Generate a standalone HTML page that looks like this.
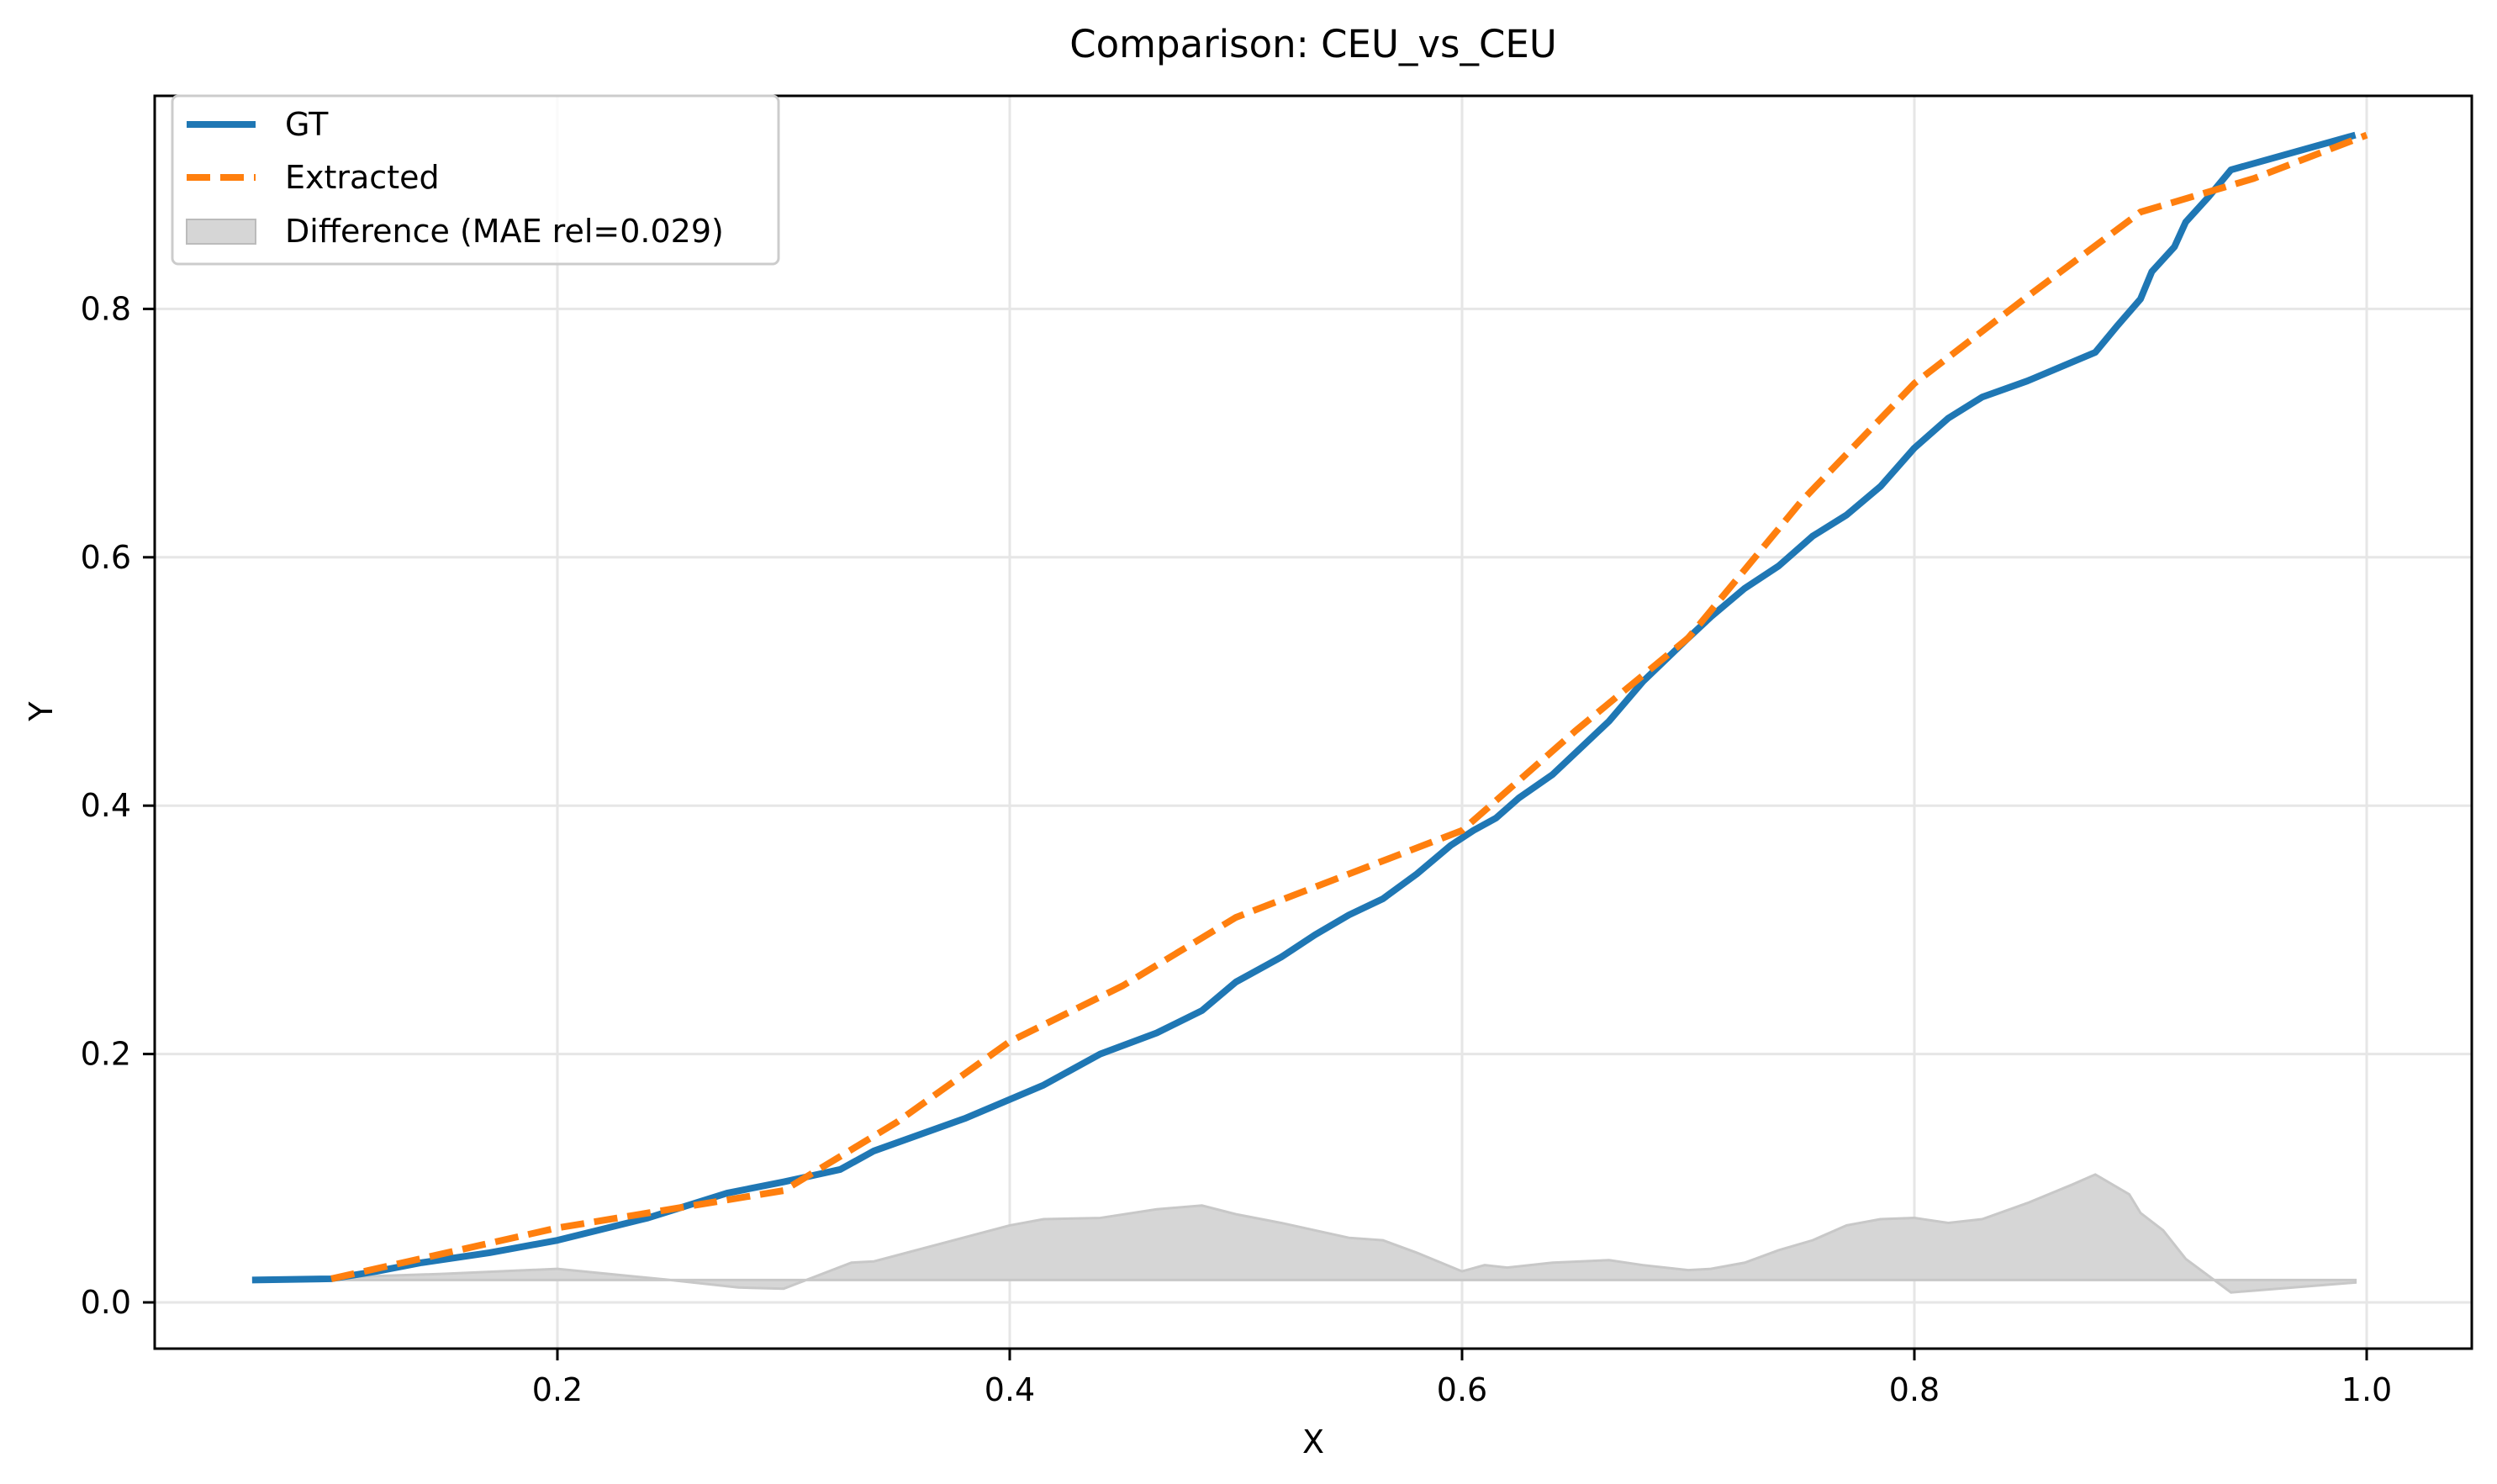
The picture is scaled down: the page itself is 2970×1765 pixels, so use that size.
<!DOCTYPE html>
<html><head><meta charset="utf-8"><style>
html,body{margin:0;padding:0;background:#fff}
svg{display:block;font-family:"DejaVu Sans","Liberation Sans",sans-serif}
</style></head><body>
<svg id="chart" width="2970" height="1765" viewBox="0 0 2970 1765" xmlns="http://www.w3.org/2000/svg">
<rect width="2970" height="1765" fill="#fff"/>
<g id="grid"></g>
<g id="fill"></g>
<g id="lines"></g>
<g id="axes"></g>
<text x="1562" y="68" font-size="45" text-anchor="middle">Comparison: CEU_vs_CEU</text>
<text x="1562" y="1728" font-size="38" text-anchor="middle">X</text>
<text x="62" y="846" font-size="38" text-anchor="middle" transform="rotate(-90 62 846)">Y</text>
<g>
<rect x="205" y="114" width="721" height="200" rx="7" fill="#fff" fill-opacity="0.8" stroke="#ccc" stroke-width="3"/>
<line x1="222" y1="148" x2="304" y2="148" stroke="#1f77b4" stroke-width="8"/>
<text x="339" y="161" font-size="38">GT</text>
<line x1="222" y1="211" x2="304" y2="211" stroke="#ff7f0e" stroke-width="8" stroke-dasharray="28,12"/>
<text x="339" y="224" font-size="38">Extracted</text>
<rect x="222" y="261" width="82" height="29" fill="#d6d6d6" stroke="#bbb" stroke-width="2"/>
<text x="339" y="288" font-size="38">Difference (MAE rel=0.029)</text>
</g>
</svg>
<script>
const gtX=[0.065,0.1,0.12,0.14,0.17,0.2,0.24,0.275,0.3,0.325,0.34,0.38,0.415,0.44,0.465,0.485,0.5,0.52,0.535,0.55,0.565,0.58,0.595,0.605,0.615,0.625,0.64,0.665,0.68,0.7,0.71,0.725,0.74,0.755,0.77,0.785,0.8,0.815,0.83,0.85,0.88,0.89,0.9,0.905,0.915,0.92,0.93,0.94,0.995];
const gtY=[0.018,0.019,0.025,0.032,0.04,0.05,0.068,0.088,0.097,0.107,0.122,0.148,0.175,0.2,0.217,0.235,0.258,0.278,0.296,0.312,0.325,0.345,0.368,0.38,0.39,0.406,0.425,0.468,0.5,0.535,0.552,0.575,0.593,0.617,0.634,0.657,0.688,0.712,0.729,0.742,0.765,0.787,0.808,0.83,0.85,0.87,0.89,0.912,0.94];
const exX=[0.1,0.2,0.25,0.3,0.35,0.4,0.45,0.5,0.55,0.6,0.65,0.7,0.75,0.8,0.85,0.9,0.95,1.0];
const exY=[0.019,0.06,0.075,0.09,0.145,0.21,0.255,0.31,0.345,0.38,0.46,0.535,0.645,0.74,0.81,0.878,0.905,0.94];
const diffBase=0.018;
const diffX=[0.1,0.15,0.2,0.25,0.28,0.3,0.33,0.34,0.4,0.415,0.44,0.465,0.485,0.5,0.52,0.55,0.565,0.58,0.6,0.61,0.62,0.64,0.665,0.68,0.7,0.71,0.725,0.74,0.755,0.77,0.785,0.8,0.815,0.83,0.85,0.87,0.88,0.895,0.9,0.91,0.92,0.94,0.995];
const diffY=[0.02,0.023,0.027,0.018,0.012,0.011,0.032,0.033,0.062,0.067,0.068,0.075,0.078,0.071,0.064,0.052,0.05,0.04,0.025,0.03,0.028,0.032,0.034,0.03,0.026,0.027,0.032,0.042,0.05,0.062,0.067,0.068,0.064,0.067,0.08,0.095,0.103,0.087,0.072,0.058,0.035,0.008,0.016];
const xTicks=[0.2,0.4,0.6,0.8,1.0];
const xTickLabels=["0.2","0.4","0.6","0.8","1.0"];
const yTicks=[0,0.2,0.4,0.6,0.8];
const yTickLabels=["0.0","0.2","0.4","0.6","0.8"];
const L=184,R=2940,T=114,B=1604;
const sx=v=>663+(v-0.2)*2690;
const sy=v=>1549-v*1477;
const NS="http://www.w3.org/2000/svg";
function mk(tag,attrs,parent){const e=document.createElementNS(NS,tag);for(const k in attrs)e.setAttribute(k,attrs[k]);parent.appendChild(e);return e;}
const grid=document.getElementById('grid'),axes=document.getElementById('axes');
xTicks.forEach((t,i)=>{
 const g=mk('line',{x1:sx(t),x2:sx(t),y1:T,y2:B,stroke:'#e6e6e6','stroke-width':3},grid);
 
 
 const tk=mk('line',{x1:sx(t),x2:sx(t),y1:B,y2:B+14,stroke:'#000','stroke-width':3},axes);
 
 
 const tx=mk('text',{x:sx(t),y:B+62,'font-size':38,'text-anchor':'middle'},axes);
 tx.textContent=xTickLabels[i];
 
 
});
yTicks.forEach((t,i)=>{
 const g=mk('line',{x1:L,x2:R,y1:sy(t),y2:sy(t),stroke:'#e6e6e6','stroke-width':3},grid);
 
 
 const tk=mk('line',{x1:L-14,x2:L,y1:sy(t),y2:sy(t),stroke:'#000','stroke-width':3},axes);
 
 
 const tx=mk('text',{x:L-28,y:sy(t)+13,'font-size':38,'text-anchor':'end'},axes);
 tx.textContent=yTickLabels[i];
 
 
});
const frame=mk('rect',{x:L,y:T,width:R-L,height:B-T,fill:'none',stroke:'#000','stroke-width':3},axes);


let d='M'+sx(diffX[0])+','+sy(diffBase);
diffX.forEach((x,i)=>{d+=' L'+sx(x)+','+sy(diffY[i]);});
d+=' L'+sx(diffX[diffX.length-1])+','+sy(diffBase)+' Z';
const area=mk('path',{d:d,fill:'#d6d6d6',stroke:'#c8c8c8','stroke-width':3},document.getElementById('fill'));


const lines=document.getElementById('lines');
const gp=mk('polyline',{points:gtX.map((x,i)=>sx(x)+','+sy(gtY[i])).join(' '),fill:'none',stroke:'#1f77b4','stroke-width':8,'stroke-linejoin':'round'},lines);


const ep=mk('polyline',{points:exX.map((x,i)=>sx(x)+','+sy(exY[i])).join(' '),fill:'none',stroke:'#ff7f0e','stroke-width':8,'stroke-dasharray':'28,12'},lines);


</script>
</body></html>
